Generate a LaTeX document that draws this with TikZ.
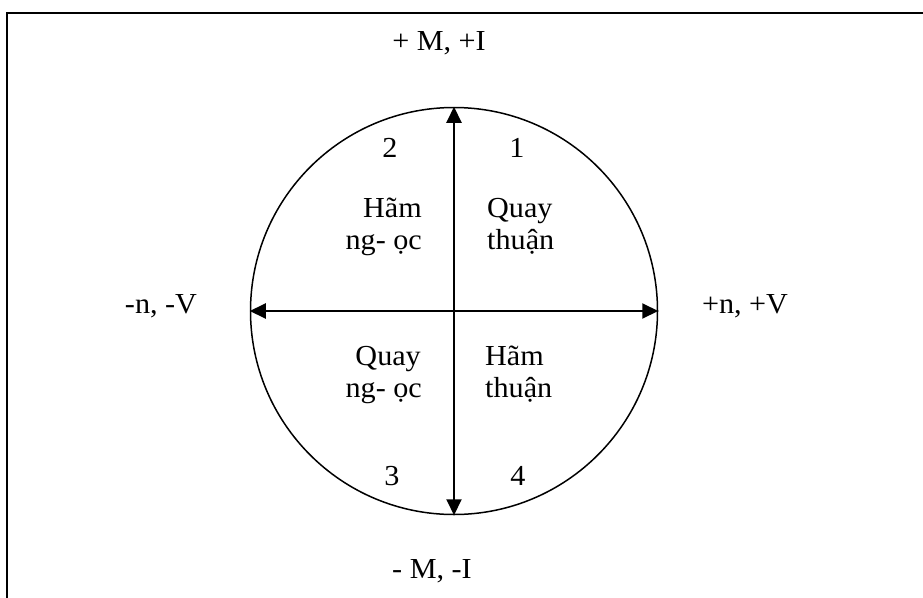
\documentclass[tikz,border=0pt]{standalone}
\usepackage{fontspec}
\setmainfont[FakeStretch=1.04]{Liberation Serif}
\usetikzlibrary{arrows.meta}
\begin{document}
\begin{tikzpicture}[x=1pt,y=-1pt,
  lbl/.style={font=\fontsize{29}{32}\selectfont, inner sep=0pt},
  axisline/.style={line width=2pt, {Triangle[length=16pt,width=15pt]}-{Triangle[length=16pt,width=15pt]}},
  frameline/.style={line width=2pt}]
\useasboundingbox (0,0) rectangle (923,597);
\coordinate (fbl) at (7,600);
\coordinate (ftl) at (7,13);
\coordinate (ftr) at (926,13);
\draw[frameline] (fbl) -- (ftl) -- (ftr);
\node[circle, draw, line width=1.5pt, minimum size=407pt, inner sep=0pt] (c) at (454,311) {};
\draw[axisline] (c.south) -- (c.north);
\draw[axisline] (c.west) -- (c.east);
\node[lbl, anchor=base] (top) at (439,50) {+ M, +I};
\node[lbl, anchor=base] (bot) at (432,578) {- M, -I};
\node[lbl, anchor=base] (lft) at (161,313) {-n, -V};
\node[lbl, anchor=base] (rgt) at (745,313) {+n, +V};
\node[lbl, anchor=base] (q2) at (390,157) {2};
\node[lbl, anchor=base] (q1) at (517,157) {1};
\node[lbl, anchor=base] (q3) at (392,485) {3};
\node[lbl, anchor=base] (q4) at (518,485) {4};
\node[lbl, anchor=base east] (q2a) at (422,217) {Hãm};
\node[lbl, anchor=base east] (q2b) at (422,249) {ng- ọc};
\node[lbl, anchor=base west] (q1a) at (487,217) {Quay};
\node[lbl, anchor=base west] (q1b) at (487,249) {thuận};
\node[lbl, anchor=base east] (q3a) at (421,365) {Quay};
\node[lbl, anchor=base east] (q3b) at (422,397) {ng- ọc};
\node[lbl, anchor=base west] (q4a) at (485,365) {Hãm};
\node[lbl, anchor=base west] (q4b) at (485,397) {thuận};
\end{tikzpicture}
\end{document}
